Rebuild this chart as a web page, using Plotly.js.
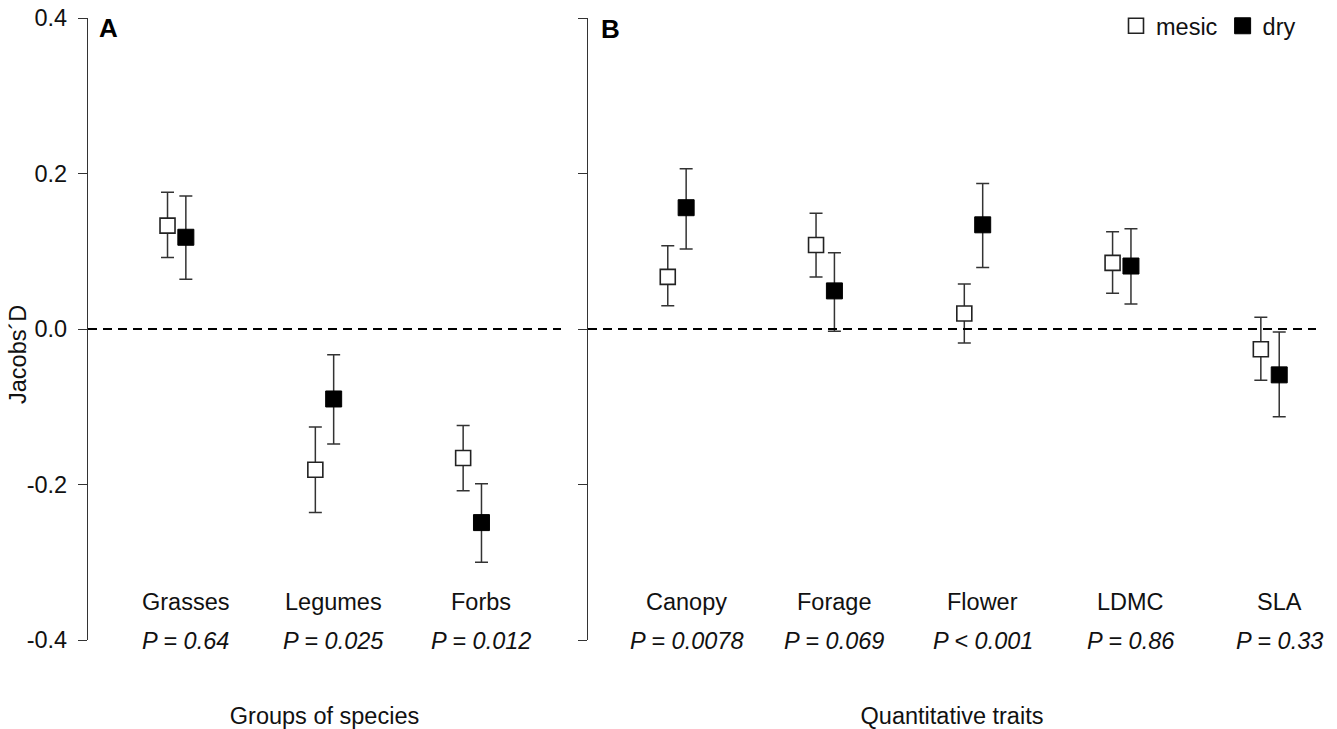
<!DOCTYPE html>
<html>
<head>
<meta charset="utf-8">
<script src="https://cdn.plot.ly/plotly-3.0.1.min.js"></script>
<style>html,body{margin:0;padding:0;background:#fff;}#chart{width:1337px;height:729px;}</style>
</head>
<body>
<div id="chart"></div>
<script>
// ---- Data ----
var groups = ['Grasses', 'Legumes', 'Forbs'];
var groupP = ['P = 0.64', 'P = 0.025', 'P = 0.012'];
var groupMesic   = [0.133, -0.181, -0.166];
var groupMesicHi = [0.176, -0.126, -0.124];
var groupMesicLo = [0.092, -0.236, -0.208];
var groupDry     = [0.118, -0.090, -0.249];
var groupDryHi   = [0.171, -0.033, -0.199];
var groupDryLo   = [0.064, -0.148, -0.300];

var traits = ['Canopy', 'Forage', 'Flower', 'LDMC', 'SLA'];
var traitP = ['P = 0.0078', 'P = 0.069', 'P < 0.001', 'P = 0.86', 'P = 0.33'];
var traitMesic   = [0.067, 0.108, 0.020, 0.085, -0.026];
var traitMesicHi = [0.107, 0.149, 0.058, 0.125, 0.015];
var traitMesicLo = [0.030, 0.067, -0.018, 0.046, -0.066];
var traitDry     = [0.156, 0.049, 0.134, 0.081, -0.059];
var traitDryHi   = [0.206, 0.098, 0.187, 0.129, -0.004];
var traitDryLo   = [0.103, -0.003, 0.079, 0.032, -0.113];

var yTickVals = [-0.4, -0.2, 0.0, 0.2, 0.4];
var yTickText = ['-0.4', '-0.2', '0.0', '0.2', '0.4'];

// ---- Styling ----
var FONT = 'Liberation Sans, Arial, sans-serif';
var FS = 23.5;
var TXT = '#111';
var AX = '#333';
var OFF = 0.062;

function pos(n, d) { var a = []; for (var i = 0; i < n; i++) a.push(i + 1 + d); return a; }
function diff(a, b) { return a.map(function (v, i) { return Math.abs(v - b[i]); }); }

function series(name, xs, y, hi, lo, xa, ya, filled, showLeg) {
  return {
    type: 'scatter', mode: 'markers', name: name,
    x: xs, y: y, xaxis: xa, yaxis: ya,
    legendgroup: name, showlegend: showLeg,
    error_y: { type: 'data', symmetric: false, array: diff(hi, y), arrayminus: diff(y, lo),
               color: AX, thickness: 1.5, width: 6.5 },
    marker: { symbol: 'square', size: filled ? 16 : 15,
              color: filled ? '#000' : '#fff',
              line: { color: filled ? '#000' : '#222', width: filled ? 1 : 1.6 } },
    hoverinfo: 'x+y'
  };
}

var data = [
  series('mesic', pos(groups.length, -OFF), groupMesic, groupMesicHi, groupMesicLo, 'x', 'y', false, false),
  series('dry',   pos(groups.length,  OFF), groupDry,   groupDryHi,   groupDryLo,   'x', 'y', true,  false),
  series('mesic', pos(traits.length, -OFF), traitMesic, traitMesicHi, traitMesicLo, 'x2', 'y2', false, true),
  series('dry',   pos(traits.length,  OFF), traitDry,   traitDryHi,   traitDryLo,   'x2', 'y2', true,  true)
];

var annotations = [];
function catLabels(names, ps, xref) {
  names.forEach(function (n, i) {
    annotations.push({ xref: xref, yref: 'paper', x: i + 1 + OFF, y: 0.0611, text: n, showarrow: false,
      xanchor: 'center', yanchor: 'middle', font: { family: FONT, size: FS, color: TXT } });
    annotations.push({ xref: xref, yref: 'paper', x: i + 1 + OFF, y: -0.0016, text: '<i>' + ps[i] + '</i>', showarrow: false,
      xanchor: 'center', yanchor: 'middle', font: { family: FONT, size: FS, color: TXT } });
  });
}
catLabels(groups, groupP, 'x');
catLabels(traits, traitP, 'x2');

annotations.push({ xref: 'paper', yref: 'paper', x: 20 / 1228, y: 1 - 10 / 622, text: '<b>A</b>', showarrow: false,
  xanchor: 'center', yanchor: 'middle', font: { family: FONT, size: 26, color: '#000' } });
annotations.push({ xref: 'paper', yref: 'paper', x: 522 / 1228, y: 1 - 11 / 622, text: '<b>B</b>', showarrow: false,
  xanchor: 'center', yanchor: 'middle', font: { family: FONT, size: 26, color: '#000' } });
annotations.push({ xref: 'paper', yref: 'paper', x: -70 / 1228, y: (640 - 355) / 622, text: 'Jacobs´D', textangle: -90,
  showarrow: false, xanchor: 'center', yanchor: 'middle', font: { family: FONT, size: FS, color: TXT } });

var yBase = {
  range: [-0.4, 0.4], showgrid: false, zeroline: false,
  showline: true, linecolor: AX, linewidth: 1.3,
  ticks: 'outside', ticklen: 9, tickwidth: 1.3, tickcolor: AX,
  tickvals: yTickVals, ticktext: yTickText,
  tickfont: { family: FONT, size: FS, color: TXT },
  ticklabelstandoff: 6, fixedrange: true
};
var yA = Object.assign({}, yBase, { anchor: 'x', showticklabels: true });
var yB = Object.assign({}, yBase, { anchor: 'x2', showticklabels: false });

var xBase = { showgrid: false, zeroline: false, showline: false, ticks: '', showticklabels: false, fixedrange: true };

var layout = {
  width: 1337, height: 729,
  margin: { l: 88, r: 21, t: 18, b: 89, autoexpand: false },
  paper_bgcolor: '#fff', plot_bgcolor: '#fff',
  font: { family: FONT, size: FS, color: TXT },
  showlegend: true,
  legend: { orientation: 'h', xref: 'container', yref: 'container', x: 1116 / 1337, xanchor: 'left', y: 1 - 4 / 729, yanchor: 'top',
            font: { family: FONT, size: FS, color: TXT }, bgcolor: 'rgba(0,0,0,0)', itemclick: false },
  xaxis: Object.assign({}, xBase, { domain: [0, 473 / 1228], range: [0.4, 3.6], anchor: 'y',
    title: { text: 'Groups of species', standoff: 68, font: { family: FONT, size: FS, color: TXT } } }),
  xaxis2: Object.assign({}, xBase, { domain: [500 / 1228, 1], range: [0.4, 5.31], anchor: 'y2',
    title: { text: 'Quantitative traits', standoff: 68, font: { family: FONT, size: FS, color: TXT } } }),
  yaxis: yA,
  yaxis2: yB,
  shapes: [
    { type: 'line', xref: 'x domain', yref: 'y', x0: 0, x1: 1, y0: 0, y1: 0, line: { color: '#000', width: 2, dash: '9px,6px' } },
    { type: 'line', xref: 'x2 domain', yref: 'y2', x0: 0, x1: 1, y0: 0, y1: 0, line: { color: '#000', width: 2, dash: '9px,6px' } }
  ],
  annotations: annotations
};

Plotly.newPlot('chart', data, layout, { displayModeBar: false, staticPlot: false });
</script>
</body>
</html>
